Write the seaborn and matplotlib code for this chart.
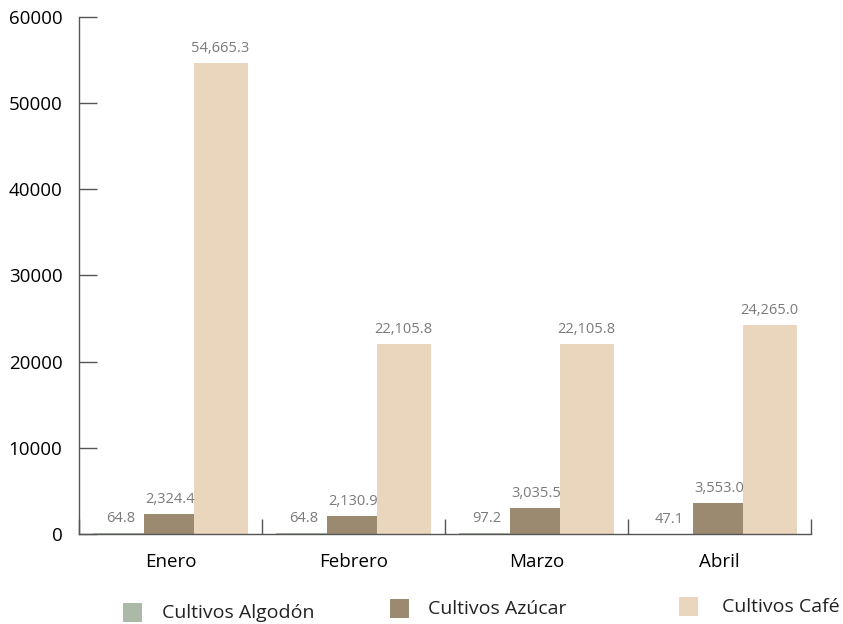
import matplotlib
matplotlib.use("Agg")
import matplotlib.pyplot as plt
import seaborn as sns
import pandas as pd
from matplotlib.patches import Rectangle

months = ["Enero", "Febrero", "Marzo", "Abril"]
series = ["Cultivos Algodón", "Cultivos Azúcar", "Cultivos Café"]
algodon = [64.8, 64.8, 97.2, 47.1]
azucar = [2324.4, 2130.9, 3035.5, 3553.0]
cafe = [54665.3, 22105.8, 22105.8, 24265.0]
colors = ["#adb9a8", "#9b8a70", "#e9d6bc"]

rows = []
for s, vals in zip(series, [algodon, azucar, cafe]):
    for m, v in zip(months, vals):
        rows.append({"Mes": m, "Serie": s, "Valor": v})
df = pd.DataFrame(rows)

sns.set_theme(style="white")
plt.rcParams["font.family"] = ["Open Sans", "DejaVu Sans"]

W, H = 843, 624
fig = plt.figure(figsize=(W / 100, H / 100), dpi=100)
ax = fig.add_axes([79 / W, 1 - 534 / H, (811 - 79) / W, (534 - 17) / H])

sns.barplot(data=df, x="Mes", y="Valor", hue="Serie", palette=colors,
            width=0.82, ax=ax, legend=False, saturation=1)

for cont in ax.containers:
    for p in cont.patches:
        c = p.get_x() + p.get_width() / 2
        w = 0.295
        p.set_x(c - w / 2)
        p.set_width(w)
        p.set_linewidth(0)

for cont in ax.containers:
    ax.bar_label(cont, labels=[f"{v:,.1f}" for v in cont.datavalues],
                 padding=5, color="#7a7a7a", fontsize=10.5)

ax.set_ylim(0, 60000)
ax.set_xlim(-0.5, 3.5)
ax.set_yticks(range(0, 60001, 10000))
ax.set_yticklabels([str(v) for v in range(0, 60001, 10000)], fontsize=13.5, color="black")
ax.set_xticks(range(4))
ax.set_xticklabels(months, fontsize=13.5, color="black")
ax.set_xlabel("")
ax.set_ylabel("")

ax.set_xticks([-0.5, 0.5, 1.5, 2.5, 3.5], minor=True)
ax.tick_params(axis="x", which="major", bottom=True, length=0, pad=14)
ax.tick_params(axis="x", which="minor", bottom=True, direction="in", length=11, width=1, color="#555555")
ax.tick_params(axis="y", left=True, direction="in", length=13, width=1, color="#555555", pad=12)

for side in ["top", "right"]:
    ax.spines[side].set_visible(False)
for side in ["left", "bottom"]:
    ax.spines[side].set_color("#555555")
    ax.spines[side].set_linewidth(1)

# legend entries (square + label), positioned like the reference
leg = [(123, 603, 162), (390, 599, 428), (679, 597, 722)]
for (sx, sy, tx), c, name in zip(leg, colors, series):
    fig.add_artist(Rectangle((sx / W, 1 - (sy + 19) / H), 19 / W, 19 / H,
                             transform=fig.transFigure, facecolor=c, edgecolor="none"))
    fig.text(tx / W, 1 - (sy + 10) / H, name, fontsize=14, color="#222222",
             va="center", ha="left")

fig.savefig("out.png", dpi=100)
